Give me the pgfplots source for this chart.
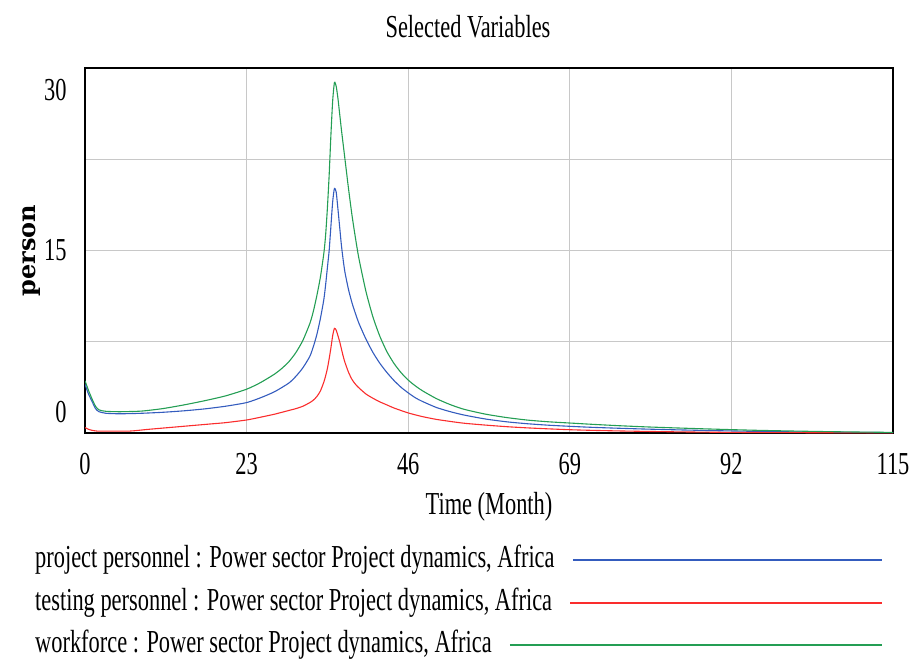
\documentclass[border=0pt]{standalone}
\usepackage{fontspec}
\setmainfont[FakeStretch=0.7]{Liberation Serif}
\newfontfamily\labelfont{DejaVu Serif}
\usepackage{pgfplots}
\usepackage{pgfplotstable}
\pgfplotsset{compat=1.18}

\definecolor{vblue}{RGB}{52,92,190}
\definecolor{vred}{RGB}{250,45,45}
\definecolor{vgreen}{RGB}{36,158,84}
\definecolor{vgrid}{RGB}{200,200,200}

\newcommand{\chartfont}{\fontsize{32}{36}\selectfont}

% project personnel
\pgfplotstableread{
x y
0 4.0
0.5 3.2
1 2.6
1.5 2.0
2 1.75
3 1.62
5 1.58
8 1.62
11 1.7
14 1.82
17 1.98
20 2.2
23 2.5
25 2.9
27 3.4
29 4.1
30 4.65
31 5.35
32 6.3
32.5 7.1
33 8.1
33.5 9.4
34 11.0
34.25 12.2
34.5 13.6
34.75 15.0
35 17.0
35.25 19.0
35.5 20.1
35.75 19.8
36 18.4
36.25 16.9
36.5 15.4
36.75 14.2
37 13.2
37.5 11.8
38 10.7
38.5 9.8
39 9.0
40 7.7
41 6.6
42 5.7
43 4.95
44 4.3
45 3.75
46 3.3
47 2.9
48 2.6
50 2.1
52 1.75
54 1.47
57 1.15
60 0.92
63 0.76
66 0.64
69 0.55
72 0.47
76 0.39
80 0.32
85 0.25
90 0.19
95 0.14
100 0.1
105 0.07
110 0.05
115 0.03
}\projectdata

% testing personnel
\pgfplotstableread{
x y
0 0.45
0.5 0.3
1 0.22
1.7 0.16
3 0.15
6.4 0.16
9 0.3
12 0.45
15 0.6
18 0.75
20 0.85
23 1.07
25 1.3
27 1.55
29 1.85
30 2.0
31 2.2
32 2.5
32.5 2.7
33 3.0
33.5 3.45
34 4.2
34.25 4.7
34.5 5.3
34.75 6.1
35 7.0
35.25 8.0
35.5 8.6
35.75 8.45
36 8.0
36.25 7.5
36.5 6.9
36.75 6.3
37 5.8
37.5 5.0
38 4.4
38.5 4.0
39 3.7
40 3.2
41 2.85
42 2.55
43 2.3
44 2.05
46 1.65
48 1.35
50 1.12
52 0.95
54 0.8
57 0.65
60 0.52
63 0.42
66 0.34
69 0.27
72 0.22
76 0.17
80 0.13
85 0.09
90 0.06
95 0.04
100 0.03
105 0.02
110 0.01
115 0.01
}\testingdata

% workforce
\pgfplotstableread{
x y
0 4.3
0.5 3.5
1 2.8
1.5 2.2
2 1.9
3 1.78
5 1.75
8 1.8
11 2.0
14 2.3
17 2.65
20 3.05
23 3.6
25 4.15
27 4.85
28 5.3
29 5.85
30 6.6
31 7.6
32 9.0
32.5 10.0
33 11.3
33.5 12.8
34 14.8
34.25 16.3
34.5 18.5
34.75 21.2
35 24.5
35.25 27.3
35.5 28.8
35.75 28.5
36 27.5
36.25 26.2
36.5 24.9
36.75 23.7
37 22.5
37.25 21.3
37.5 20.1
38 17.9
38.5 16.0
39 14.3
40 11.6
41 9.5
42 7.9
43 6.65
44 5.7
45 4.95
46 4.35
47 3.88
48 3.48
50 2.83
52 2.33
54 1.94
57 1.55
60 1.27
63 1.06
66 0.92
69 0.82
72 0.72
76 0.6
80 0.5
85 0.4
90 0.31
95 0.23
100 0.17
105 0.12
110 0.08
115 0.05
}\workforcedata

\begin{document}
\begin{tikzpicture}
\path[use as bounding box] (0,0) rectangle (917pt,662pt);

\begin{axis}[
    at={(85pt,229pt)}, anchor=south west,
    scale only axis,
    width=808pt, height=365pt,
    xmin=0, xmax=115, ymin=0, ymax=30,
    xtick={0,23,46,69,92,115},
    ytick={1.7,15,28.2},
    yticklabels={0,15,30},
    minor ytick={7.5,15,22.5},
    major tick length=0pt, minor tick length=0pt,
    xmajorgrids, yminorgrids,
    major grid style={vgrid, line width=1pt},
    minor grid style={vgrid, line width=1pt},
    axis line style={black, line width=2.2pt},
    /pgf/number format/assume math mode=true,
    tick label style={font=\chartfont},
    xticklabel style={yshift=-17pt},
    yticklabel style={xshift=-15pt},
    title={Selected Variables},
    title style={font=\chartfont, at={(axis description cs:0.474,1)}, anchor=center, yshift=35pt},
    xlabel={Time (Month)},
    xlabel style={font=\chartfont, at={(axis description cs:0.5,0)}, anchor=center, yshift=-74pt},
    ylabel={person},
    ylabel style={font=\labelfont\bfseries\fontsize{24}{28}\selectfont, at={(axis description cs:0,0.5)}, anchor=center, yshift=53pt},
    clip=true,
]
\addplot[vblue, line width=1.1pt, smooth, tension=0.4] table[x=x, y=y] {\projectdata};
\addplot[vred, line width=1.1pt, smooth, tension=0.4] table[x=x, y=y] {\testingdata};
\addplot[vgreen, line width=1.1pt, smooth, tension=0.4] table[x=x, y=y] {\workforcedata};
\end{axis}

% legend, text first and line after it, as in the reference
\node[anchor=west, inner sep=0pt, font=\chartfont] (l1) at (35pt,102pt) {project personnel : Power sector Project dynamics, Africa};
\node[anchor=west, inner sep=0pt, font=\chartfont] (l2) at (35pt,59pt) {testing personnel : Power sector Project dynamics, Africa};
\node[anchor=west, inner sep=0pt, font=\chartfont] (l3) at (35pt,17pt) {workforce : Power sector Project dynamics, Africa};
\draw[vblue, line width=1.3pt] ([xshift=18pt]l1.east) -- (882pt,102pt);
\draw[vred, line width=1.3pt] ([xshift=18pt]l2.east) -- (882pt,59pt);
\draw[vgreen, line width=1.3pt] ([xshift=18pt]l3.east) -- (882pt,17pt);
\end{tikzpicture}
\end{document}
